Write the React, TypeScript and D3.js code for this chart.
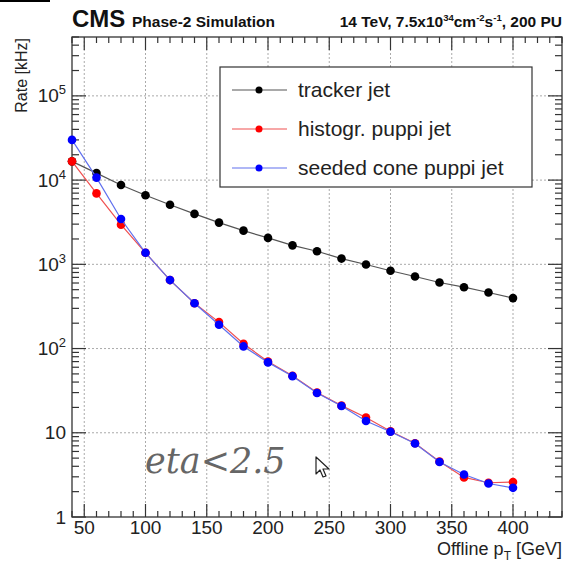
import React from "react";
import * as d3 from "d3";

const ptValues = [40, 60, 80, 100, 120, 140, 160, 180, 200, 220, 240, 260, 280, 300, 320, 340, 360, 380, 400];
const trackerJet = [16700, 12100, 8750, 6600, 5100, 3970, 3130, 2510, 2060, 1680, 1430, 1170, 995, 838, 717, 608, 535, 463, 397];
const histoPuppiJet = [16700, 6950, 2960, 1370, 650, 345, 206, 114, 70, 47.5, 30, 21, 15.2, 10.4, 7.5, 4.55, 2.95, 2.55, 2.6];
const seededConePuppiJet = [30000, 10700, 3450, 1370, 650, 345, 192, 106, 68.5, 47, 29.7, 20.8, 13.8, 10.3, 7.45, 4.5, 3.2, 2.5, 2.22];
const seriesNames = ["tracker jet", "histogr. puppi jet", "seeded cone puppi jet"];
const xTicks = [50, 100, 150, 200, 250, 300, 350, 400];
const yDecades = [1, 10, 100, 1000, 10000, 100000];

const W = 577, H = 569;
const L = 72, R = 562, T = 37, B = 517;

export default function App() {
  const x = d3.scaleLinear().domain([40, 440]).range([L, R]);
  const y = d3.scaleLog().domain([1, 5e5]).range([B, T]);

  const series = [
    { name: seriesNames[0], data: trackerJet, line: "#555", marker: "#000" },
    { name: seriesNames[1], data: histoPuppiJet, line: "#f05050", marker: "#f00" },
    { name: seriesNames[2], data: seededConePuppiJet, line: "#6070ee", marker: "#00f" },
  ];
  const lineGen = d3.line<number>().x((_, i) => x(ptValues[i])).y((d) => y(d));

  const xMinor = d3.range(40, 441, 10);
  const yMinor: number[] = [];
  for (let e = 0; e < 6; e++) {
    for (let m = 2; m <= 9; m++) {
      const v = m * Math.pow(10, e);
      if (v <= 5e5) yMinor.push(v);
    }
  }

  const font = "'Liberation Sans', Arial, Helvetica, sans-serif";
  const axisColor = "#333";

  return (
    <svg width={W} height={H} style={{ position: "absolute", left: 0, top: 0, background: "#fff" }} fontFamily={font}>
      <rect x={0} y={0} width={W} height={H} fill="#fff" />
      <line x1={0} x2={50} y1={1} y2={1} stroke="#000" strokeWidth={2} />
      {/* grid */}
      {xTicks.map((t) => (
        <line key={"gx" + t} x1={x(t)} x2={x(t)} y1={T} y2={B} stroke="#aaa" strokeWidth={1} strokeDasharray="2,2" />
      ))}
      {yDecades.slice(1).map((t) => (
        <line key={"gy" + t} x1={L} x2={R} y1={y(t)} y2={y(t)} stroke="#aaa" strokeWidth={1} strokeDasharray="2,2" />
      ))}
      {/* frame */}
      <rect x={L} y={T} width={R - L} height={B - T} fill="none" stroke={axisColor} strokeWidth={1.3} />
      {/* x ticks bottom + top */}
      {xMinor.map((t) => {
        const major = t % 50 === 0;
        const len = major ? 13 : 6;
        return (
          <g key={"xt" + t}>
            <line x1={x(t)} x2={x(t)} y1={B} y2={B - len} stroke={axisColor} strokeWidth={1.2} />
            <line x1={x(t)} x2={x(t)} y1={T} y2={T + len} stroke={axisColor} strokeWidth={1.2} />
          </g>
        );
      })}
      {/* y ticks left + right */}
      {yMinor.map((t) => (
        <g key={"ym" + t}>
          <line x1={L} x2={L + 7} y1={y(t)} y2={y(t)} stroke={axisColor} strokeWidth={1.2} />
          <line x1={R} x2={R - 7} y1={y(t)} y2={y(t)} stroke={axisColor} strokeWidth={1.2} />
        </g>
      ))}
      {yDecades.map((t) => (
        <g key={"yM" + t}>
          <line x1={L} x2={L + 14} y1={y(t)} y2={y(t)} stroke={axisColor} strokeWidth={1.2} />
          <line x1={R} x2={R - 14} y1={y(t)} y2={y(t)} stroke={axisColor} strokeWidth={1.2} />
        </g>
      ))}
      {/* x tick labels */}
      {xTicks.map((t) => (
        <text key={"xl" + t} x={x(t)} y={B + 17} textAnchor="middle" fontSize={19} fill="#222">
          {t}
        </text>
      ))}
      {/* y tick labels */}
      {yDecades.map((t, i) => {
        const yy = y(t) + 6.5;
        if (i === 0) return <text key="yl1" x={L - 6} y={yy} textAnchor="end" fontSize={19} fill="#222">1</text>;
        if (i === 1) return <text key="yl10" x={L - 6} y={yy} textAnchor="end" fontSize={19} fill="#222">10</text>;
        return (
          <text key={"yl" + t} x={L - 6} y={yy} textAnchor="end" fontSize={19} fill="#222">
            10<tspan dy={-8} fontSize={13}>{i}</tspan>
          </text>
        );
      })}
      {/* axis titles */}
      <text x={R} y={555} textAnchor="end" fontSize={18} fill="#222">
        Offline p<tspan dy={5} fontSize={12}>T</tspan><tspan dy={-5}> [GeV]</tspan>
      </text>
      <text transform={`translate(27,${T + 1}) rotate(-90)`} textAnchor="end" fontSize={16} fill="#222">
        Rate [kHz]
      </text>
      {/* header */}
      <text x={L} y={27} fontSize={24} fontWeight="bold" fill="#111">
        CMS <tspan fontSize={15.5}>Phase-2 Simulation</tspan>
      </text>
      <text x={R} y={27} textAnchor="end" fontSize={15.5} fontWeight="bold" fill="#111">
        14 TeV, 7.5x10<tspan dy={-6} fontSize={9.5}>34</tspan><tspan dy={6}>cm</tspan><tspan dy={-6} fontSize={9.5}>-2</tspan><tspan dy={6}>s</tspan><tspan dy={-6} fontSize={9.5}>-1</tspan><tspan dy={6}>, 200 PU</tspan>
      </text>
      {/* series */}
      {series.map((s) => (
        <g key={s.name}>
          <path d={lineGen(s.data) || ""} fill="none" stroke={s.line} strokeWidth={1.2} />
          {s.data.map((v, i) => (
            <circle key={i} cx={x(ptValues[i])} cy={y(v)} r={4.3} fill={s.marker} />
          ))}
        </g>
      ))}
      {/* legend */}
      <rect x={220} y={67} width={312} height={120} fill="#fff" stroke={axisColor} strokeWidth={1.2} />
      {series.map((s, i) => {
        const ly = 90 + i * 39;
        return (
          <g key={"lg" + i}>
            <line x1={232} x2={287} y1={ly} y2={ly} stroke={s.line} strokeWidth={1.2} />
            <circle cx={259} cy={ly} r={3.5} fill={s.marker} />
            <text x={298} y={ly + 7} fontSize={21} fill="#222">{s.name}</text>
          </g>
        );
      })}
      {/* annotation */}
      <text x={145} y={473} fontSize={35} fontStyle="italic" fontFamily="'DejaVu Serif', 'Liberation Serif', serif" fill="#666">
        eta&lt;2.5
      </text>
      {/* cursor */}
      <path d="M316,457 L316,474 L320,470 L323,477 L326,476 L323,469 L329,469 Z" fill="#fff" stroke="#222" strokeWidth={1.2} strokeLinejoin="round" />
    </svg>
  );
}
